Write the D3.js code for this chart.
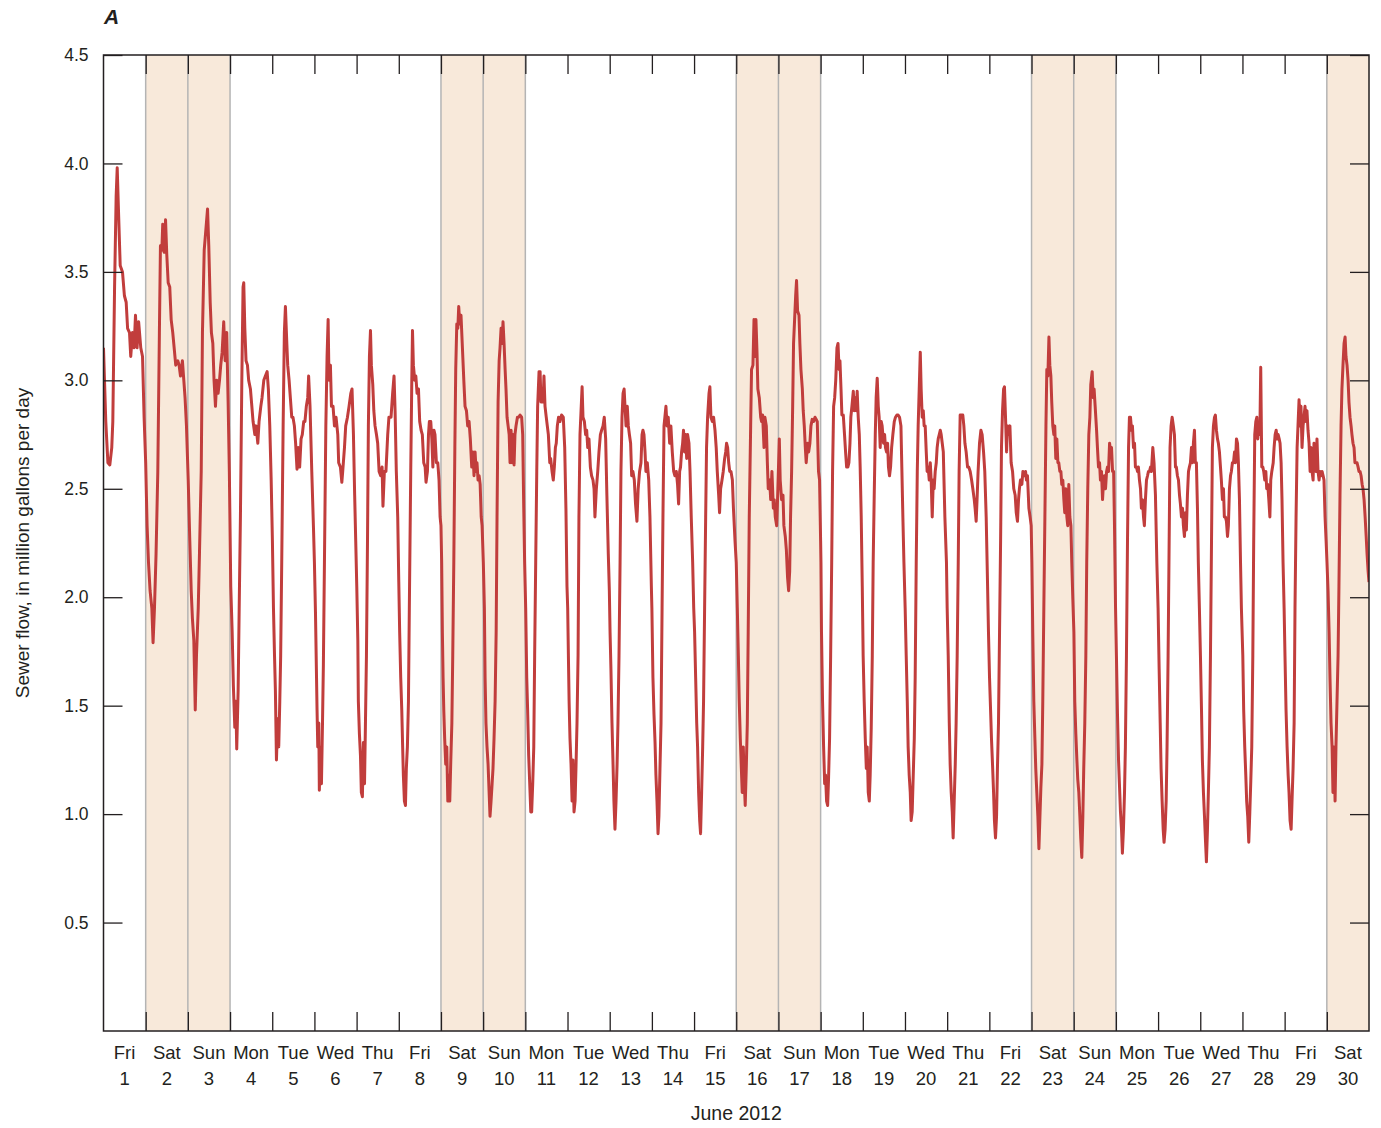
<!DOCTYPE html>
<html>
<head>
<meta charset="utf-8">
<script src="https://cdn.jsdelivr.net/npm/d3@7"></script>
<style>
  body { margin: 0; background: #fff; }
  text { font-family: "Liberation Sans", Arial, "DejaVu Sans", sans-serif; fill: #231f20; }
</style>
</head>
<body>
<svg id="viz" width="1381" height="1128"></svg>
<script>
// Sewer flow, June 2012 -- readings per day as [hour of day, million gallons per day]
const jun01 = [[0,3.15],[1.3,2.81],[2.5,2.62],[3.6,2.61],[4.7,2.69],[5.3,2.81],[6.3,3.43],[7.2,3.85],[7.8,3.98],[8.5,3.79],[9.5,3.53],[10.8,3.50],[11.9,3.39],[12.9,3.36],[13.7,3.24],[14.8,3.22],[15.5,3.11],[16.5,3.22],[17.4,3.15],[18.2,3.30],[19.1,3.15],[20,3.27],[21.2,3.15],[22.2,3.11],[23.1,2.83]];
const jun02 = [[0,2.62],[0.8,2.33],[1.6,2.16],[2.5,2.03],[3.5,1.95],[4.2,1.79],[5,1.95],[5.9,2.20],[6.9,2.58],[7.8,3.22],[8.4,3.62],[9.2,3.60],[9.7,3.72],[10.5,3.59],[11.3,3.74],[12,3.58],[12.8,3.45],[13.7,3.43],[14.5,3.28],[15.4,3.22],[16.2,3.15],[17.1,3.07],[18.3,3.09],[19,3.07],[19.8,3.02],[20.9,3.09],[21.7,3.00],[22.4,2.92],[23.2,2.79]];
const jun03 = [[0.2,2.54],[1.1,2.26],[1.9,2.03],[2.6,1.90],[3.4,1.80],[4.2,1.48],[4.9,1.73],[5.9,1.95],[6.6,2.20],[7.6,2.58],[8.3,3.22],[9.3,3.60],[10.2,3.69],[11.2,3.79],[11.9,3.62],[12.7,3.36],[13.4,3.22],[14.2,3.17],[14.9,3.00],[15.7,2.88],[16.4,3.00],[17.2,2.94],[18,3.00],[18.7,3.07],[19.5,3.13],[20.4,3.27],[21.2,3.09],[22.1,3.22],[22.9,2.90],[23.6,2.58]];
const jun04 = [[0.4,2.05],[1.2,1.84],[1.9,1.59],[2.7,1.40],[3.3,1.52],[3.8,1.30],[4.6,1.57],[5.2,1.95],[5.9,2.37],[6.7,3.00],[7.4,3.43],[7.8,3.45],[8.4,3.24],[9.1,3.09],[9.9,3.07],[10.6,3.00],[11.6,2.96],[12.4,2.88],[13.1,2.81],[14.1,2.75],[14.8,2.79],[15.8,2.71],[16.5,2.81],[17.5,2.88],[18.2,2.92],[19.2,3.00],[20.1,3.02],[21.1,3.04],[21.8,2.96],[22.6,2.79],[23.4,2.54]];
const jun05 = [[0.1,2.26],[0.7,1.95],[1.3,1.73],[1.8,1.57],[2.4,1.25],[3.1,1.44],[3.7,1.31],[4.3,1.52],[4.8,1.73],[5.4,2.16],[6.2,2.79],[6.9,3.22],[7.5,3.34],[8.3,3.17],[8.8,3.07],[9.6,3.00],[10.3,2.92],[11.1,2.83],[11.8,2.83],[12.6,2.79],[13.3,2.71],[14.1,2.59],[14.8,2.69],[15.6,2.60],[16.4,2.73],[17.1,2.75],[17.9,2.81],[18.6,2.81],[19.4,2.88],[20.2,2.92],[20.7,3.02],[21.5,2.88],[22.5,2.58],[23.5,2.31]];
const jun06 = [[0,2.16],[0.6,1.93],[1.2,1.63],[1.5,1.48],[1.9,1.31],[2.5,1.42],[2.8,1.11],[3.4,1.31],[4,1.14],[4.6,1.42],[5.1,1.69],[5.7,2.16],[6.5,2.79],[7.2,3.11],[7.8,3.28],[8.3,3.00],[9.1,3.07],[9.7,2.88],[10.6,2.88],[11.4,2.79],[12.3,2.83],[13.3,2.75],[13.8,2.62],[14.8,2.60],[15.6,2.53],[16.1,2.58],[17.1,2.69],[17.8,2.79],[18.8,2.83],[19.7,2.88],[20.7,2.94],[21.4,2.96],[22.2,2.75],[22.9,2.47],[23.5,2.26]];
const jun07 = [[0.1,2.05],[0.7,1.80],[1,1.52],[1.6,1.37],[2.2,1.27],[2.7,1.10],[3.3,1.08],[3.9,1.33],[4.5,1.14],[5,1.40],[5.6,1.73],[6.2,2.26],[6.7,2.79],[7.3,3.11],[7.9,3.23],[8.4,3.07],[9.2,2.98],[9.8,2.86],[10.5,2.79],[11.3,2.75],[12,2.71],[12.8,2.58],[13.7,2.56],[14.5,2.60],[15,2.42],[15.8,2.58],[16.7,2.58],[17.7,2.75],[18.4,2.83],[19.6,2.83],[20.5,2.94],[21.3,3.02],[21.9,2.86],[22.6,2.58],[23.4,2.37]];
const jun08 = [[0,2.07],[0.5,1.84],[1.1,1.63],[1.7,1.48],[2.2,1.31],[2.6,1.18],[3.2,1.06],[3.8,1.04],[4.3,1.21],[4.9,1.31],[5.5,1.52],[6,1.95],[6.8,2.58],[7.4,3.00],[7.8,3.23],[8.3,3.07],[9.1,3.00],[9.7,3.02],[10.4,2.94],[11.2,2.96],[11.9,2.81],[12.7,2.77],[13.4,2.75],[14.2,2.62],[15,2.60],[15.5,2.53],[16.3,2.58],[16.9,2.75],[17.4,2.81],[18.2,2.81],[18.8,2.73],[19.4,2.60],[20,2.77],[20.6,2.75],[21.4,2.62],[22.2,2.62],[22.9,2.54],[23.5,2.37]];
const jun09 = [[0,2.33],[0.4,2.16],[0.8,1.84],[1.2,1.63],[1.6,1.48],[2.1,1.35],[2.7,1.23],[3.3,1.31],[3.9,1.06],[4.4,1.18],[5,1.06],[5.6,1.25],[6.2,1.42],[6.7,1.73],[7.3,2.16],[7.9,2.69],[8.4,3.05],[9,3.26],[9.6,3.24],[10.1,3.34],[10.7,3.26],[11.4,3.30],[12.2,3.15],[13,3.00],[13.7,2.88],[14.5,2.86],[15.2,2.79],[16,2.81],[16.7,2.73],[17.5,2.60],[18.2,2.67],[18.8,2.56],[19.4,2.67],[20,2.58],[20.5,2.62],[21.1,2.54],[21.7,2.56],[22.3,2.52],[22.9,2.37],[23.4,2.33]];
const jun10 = [[0.1,2.16],[0.7,1.95],[1.1,1.63],[1.6,1.42],[2.2,1.31],[2.8,1.23],[3.4,1.10],[3.9,0.99],[4.5,1.06],[5.1,1.14],[5.6,1.21],[6.2,1.35],[6.8,1.52],[7.4,1.84],[7.9,2.37],[8.5,2.90],[9.1,3.09],[9.6,3.15],[10.2,3.24],[10.8,3.17],[11.3,3.27],[11.9,3.17],[12.5,3.05],[13,2.96],[13.6,2.83],[14.2,2.79],[14.8,2.75],[15.3,2.62],[15.9,2.77],[16.4,2.62],[17,2.75],[17.6,2.61],[18.1,2.75],[18.7,2.79],[19.5,2.83],[20.2,2.83],[21,2.84],[21.9,2.83],[22.5,2.75],[23.1,2.41],[23.6,2.16]];
const jun11 = [[0.2,1.95],[0.8,1.63],[1.3,1.48],[1.9,1.27],[2.5,1.14],[3.1,1.01],[3.6,1.01],[4.2,1.14],[4.8,1.31],[5.3,1.73],[5.9,2.16],[6.5,2.58],[7,2.88],[7.8,3.04],[8.4,3.04],[8.9,2.90],[9.5,2.96],[10.1,2.90],[10.6,3.02],[11.2,2.88],[11.9,2.83],[12.5,2.79],[13.1,2.75],[13.9,2.62],[14.4,2.64],[15.2,2.58],[15.9,2.54],[16.5,2.60],[17.1,2.69],[17.6,2.71],[18.2,2.79],[18.9,2.83],[19.7,2.81],[20.6,2.84],[21.6,2.83],[22.4,2.69],[23.1,2.41],[23.7,2.05]];
const jun12 = [[0.1,1.95],[0.5,1.73],[0.9,1.52],[1.4,1.35],[2,1.23],[2.6,1.06],[3.1,1.25],[3.7,1.01],[4.3,1.06],[4.8,1.21],[5.4,1.42],[6,1.73],[6.5,2.37],[7.1,2.75],[7.7,2.86],[8.3,2.97],[8.8,2.83],[9.6,2.81],[10.3,2.75],[10.9,2.77],[11.5,2.69],[12.2,2.73],[13,2.60],[13.7,2.56],[14.5,2.54],[15.1,2.50],[15.6,2.37],[16.4,2.50],[17.2,2.58],[17.9,2.67],[18.7,2.75],[19.4,2.77],[20.2,2.79],[20.9,2.83],[21.7,2.73],[22.4,2.47],[23.2,2.20],[23.8,2.03]];
const jun13 = [[0.2,1.84],[0.7,1.67],[1.3,1.42],[1.9,1.23],[2.4,1.06],[3,0.93],[3.6,1.06],[4.2,1.23],[4.7,1.42],[5.3,1.73],[5.9,2.16],[6.4,2.58],[7,2.83],[7.6,2.94],[8.2,2.96],[8.7,2.88],[9.3,2.79],[10,2.88],[10.6,2.79],[11.2,2.75],[11.9,2.71],[12.5,2.56],[13.2,2.58],[14,2.54],[14.7,2.43],[15.5,2.35],[16.2,2.50],[17,2.58],[17.8,2.62],[18.4,2.75],[18.9,2.77],[19.5,2.75],[20.1,2.67],[20.6,2.58],[21.4,2.62],[22.2,2.54],[22.9,2.37],[23.7,2.05]];
const jun14 = [[0,1.95],[0.6,1.63],[1.2,1.46],[1.8,1.33],[2.3,1.18],[2.9,1.06],[3.5,0.91],[4,0.99],[4.6,1.21],[5.2,1.42],[5.8,1.95],[6.3,2.37],[6.9,2.79],[7.4,2.83],[8,2.88],[8.6,2.79],[9.3,2.83],[10.1,2.71],[10.8,2.79],[11.6,2.67],[12.4,2.58],[13.1,2.56],[13.9,2.58],[14.6,2.52],[15.2,2.43],[15.8,2.58],[16.3,2.60],[16.9,2.67],[17.5,2.71],[18,2.77],[18.6,2.67],[19.2,2.75],[19.8,2.64],[20.3,2.75],[21.1,2.71],[21.7,2.58],[22.4,2.37],[23.2,2.16],[23.8,1.95]];
const jun15 = [[0.3,1.84],[0.9,1.63],[1.5,1.42],[2,1.31],[2.6,1.10],[3.2,0.97],[3.7,0.91],[4.3,1.10],[4.9,1.31],[5.4,1.52],[6,1.95],[6.6,2.37],[7.1,2.69],[7.7,2.83],[8.5,2.94],[9,2.97],[9.6,2.83],[10.4,2.81],[11.1,2.83],[11.9,2.77],[12.6,2.69],[13.2,2.58],[14,2.47],[14.5,2.39],[15.1,2.50],[15.9,2.54],[16.6,2.58],[17.4,2.64],[18,2.67],[18.5,2.71],[19.1,2.69],[19.7,2.62],[20.3,2.58],[21,2.58],[21.8,2.54],[22.4,2.41],[23.3,2.26]];
const jun16 = [[0,2.16],[0.6,1.95],[1.2,1.73],[1.7,1.52],[2.3,1.35],[2.9,1.21],[3.4,1.10],[4,1.31],[4.6,1.14],[5.1,1.04],[5.7,1.21],[6.3,1.42],[6.8,1.84],[7.4,2.37],[8.2,2.79],[8.7,3.05],[9.5,3.07],[10.1,3.28],[10.6,3.11],[11.2,3.28],[11.8,3.13],[12.3,2.96],[13.1,2.92],[13.9,2.83],[14.4,2.81],[15,2.84],[15.8,2.69],[16.3,2.83],[17.1,2.79],[17.7,2.62],[18.2,2.50],[19,2.54],[19.6,2.45],[20.3,2.58],[21.1,2.41],[21.6,2.45],[22.2,2.37],[23,2.33],[23.5,2.45]];
const jun17 = [[0.5,2.73],[1,2.54],[1.8,2.45],[2.6,2.47],[3.1,2.33],[3.9,2.28],[4.5,2.22],[5.2,2.09],[5.8,2.03],[6.4,2.12],[6.9,2.37],[7.5,2.58],[8.1,2.88],[8.6,3.17],[9.2,3.28],[9.8,3.39],[10.3,3.46],[10.9,3.32],[11.7,3.30],[12.2,3.17],[12.8,3.05],[13.6,2.96],[14.1,2.86],[14.7,2.79],[15.3,2.69],[15.8,2.62],[16.6,2.71],[17.2,2.67],[17.9,2.71],[18.5,2.79],[19.2,2.82],[20,2.81],[20.8,2.83],[21.5,2.82],[22.1,2.81],[22.8,2.58],[23.4,2.54]];
const jun18 = [[0,2.26],[0.2,2.16],[0.5,1.84],[1.1,1.52],[1.7,1.31],[2.3,1.14],[2.8,1.18],[3.4,1.06],[4,1.04],[4.5,1.16],[5.1,1.35],[5.7,1.73],[6.3,2.16],[6.8,2.58],[7.4,2.88],[8,2.92],[8.6,3.00],[9.3,3.15],[9.9,3.17],[10.5,3.05],[11,3.09],[11.6,2.96],[12.1,2.84],[12.9,2.84],[13.6,2.75],[14.2,2.67],[14.8,2.60],[15.5,2.60],[16.1,2.62],[16.7,2.71],[17.2,2.83],[17.8,2.88],[18.6,2.95],[19.1,2.86],[19.7,2.92],[20.3,2.86],[20.8,2.95],[21.4,2.83],[22,2.75],[22.5,2.60],[23.1,2.37],[23.7,2.05]];
const jun19 = [[0.2,1.73],[0.8,1.52],[1.4,1.35],[2,1.21],[2.5,1.31],[3.1,1.10],[3.7,1.06],[4.2,1.18],[4.8,1.40],[5.4,1.73],[5.9,2.16],[6.5,2.47],[7.1,2.75],[7.6,2.92],[8.2,3.01],[8.8,2.88],[9.3,2.83],[9.9,2.69],[10.5,2.81],[11,2.79],[11.8,2.71],[12.4,2.75],[12.9,2.69],[13.5,2.67],[14.1,2.71],[14.6,2.60],[15.2,2.56],[15.8,2.60],[16.4,2.69],[17.1,2.75],[17.9,2.81],[18.6,2.83],[19.4,2.84],[20.1,2.84],[20.9,2.83],[21.7,2.79],[22.2,2.60],[22.8,2.37],[23.4,2.16]];
const jun20 = [[0.1,1.95],[0.7,1.73],[1.3,1.52],[1.8,1.31],[2.4,1.18],[3,1.10],[3.5,0.97],[4.1,1.01],[4.7,1.18],[5.3,1.35],[5.8,1.63],[6.4,2.16],[7,2.58],[7.5,2.79],[8.1,2.96],[8.7,3.13],[9.2,2.96],[9.8,2.83],[10.4,2.86],[10.9,2.79],[11.5,2.79],[12.1,2.67],[12.6,2.58],[13.2,2.60],[13.8,2.54],[14.4,2.62],[14.9,2.54],[15.5,2.37],[16.1,2.54],[16.6,2.50],[17.2,2.58],[17.8,2.62],[18.3,2.69],[18.9,2.73],[19.5,2.75],[20.1,2.77],[20.6,2.75],[21.2,2.71],[21.8,2.67],[22.7,2.37],[23.6,2.16]];
const jun21 = [[0,1.95],[0.6,1.73],[1.2,1.42],[1.7,1.23],[2.3,1.10],[2.9,1.01],[3.4,0.89],[4,1.06],[4.6,1.23],[5.1,1.42],[5.7,1.73],[6.3,2.16],[6.8,2.58],[7.4,2.84],[8.2,2.84],[8.9,2.84],[9.5,2.79],[10.1,2.71],[10.8,2.67],[11.6,2.60],[12.3,2.60],[13.1,2.58],[13.9,2.54],[14.6,2.50],[15.4,2.45],[15.9,2.41],[16.5,2.35],[17.1,2.47],[17.6,2.58],[18.4,2.71],[19.2,2.77],[19.9,2.75],[20.7,2.67],[21.4,2.58],[22.2,2.37],[23,2.05],[23.5,1.84]];
const jun22 = [[0.1,1.63],[0.7,1.48],[1.2,1.35],[1.8,1.23],[2.4,1.10],[2.9,0.97],[3.5,0.89],[4.1,0.99],[4.6,1.21],[5.2,1.42],[5.8,1.84],[6.4,2.26],[6.9,2.69],[7.5,2.86],[8.1,2.96],[8.6,2.97],[9.2,2.83],[9.8,2.67],[10.3,2.79],[10.9,2.75],[11.7,2.79],[12.4,2.62],[13.2,2.58],[13.9,2.50],[14.7,2.47],[15.3,2.39],[16,2.35],[16.6,2.45],[17.1,2.50],[17.7,2.54],[18.5,2.52],[19.1,2.58],[19.8,2.56],[20.6,2.58],[21.1,2.54],[21.7,2.56],[22.5,2.41],[23.2,2.37],[23.8,2.33]];
const jun23 = [[0.2,2.16],[0.7,1.84],[1.3,1.52],[1.9,1.35],[2.4,1.21],[3,1.10],[3.6,0.99],[4.2,0.84],[4.7,0.97],[5.3,1.12],[5.9,1.23],[6.4,1.52],[7,1.95],[7.6,2.37],[8.2,2.79],[8.7,3.05],[9.3,3.02],[9.9,3.20],[10.4,3.07],[11,3.02],[11.5,2.90],[12.1,2.79],[12.7,2.75],[13.2,2.79],[13.8,2.64],[14.4,2.73],[15,2.62],[15.5,2.62],[16.1,2.58],[16.7,2.58],[17.2,2.52],[17.8,2.54],[18.4,2.45],[18.9,2.39],[19.5,2.50],[20.1,2.37],[20.6,2.33],[21.2,2.52],[21.8,2.37],[22.4,2.33],[22.9,2.16],[23.5,1.99]];
const jun24 = [[0.1,1.84],[0.6,1.52],[1.2,1.37],[1.8,1.25],[2.3,1.16],[2.9,1.10],[3.5,0.99],[4,0.89],[4.6,0.80],[5.2,0.99],[5.7,1.21],[6.3,1.42],[6.9,1.73],[7.4,2.16],[8,2.50],[8.6,2.75],[9.2,2.83],[9.7,2.98],[10.5,3.04],[11.1,2.92],[11.6,2.96],[12.2,2.88],[13,2.77],[13.5,2.69],[14.1,2.60],[14.7,2.62],[15.2,2.54],[15.8,2.58],[16.4,2.45],[17,2.54],[17.5,2.56],[18.1,2.50],[18.7,2.58],[19.2,2.60],[19.8,2.58],[20.4,2.71],[21,2.67],[21.5,2.69],[22.1,2.58],[22.7,2.58],[23.2,2.33],[23.8,1.95]];
const jun25 = [[0.3,1.73],[0.9,1.46],[1.5,1.25],[2,1.14],[2.6,1.01],[3.2,0.93],[3.7,0.82],[4.3,0.93],[4.9,1.10],[5.4,1.31],[6,1.73],[6.6,2.26],[7.2,2.69],[7.7,2.83],[8.3,2.83],[8.9,2.77],[9.4,2.79],[10,2.69],[10.6,2.71],[11.1,2.60],[11.7,2.60],[12.3,2.58],[12.8,2.60],[13.4,2.54],[14,2.50],[14.5,2.41],[15.1,2.45],[15.7,2.37],[16.2,2.33],[16.8,2.45],[17.4,2.54],[18,2.56],[18.5,2.58],[19.1,2.58],[19.7,2.60],[20.2,2.58],[21,2.69],[21.7,2.62],[22.5,2.47],[23.3,2.16]];
const jun26 = [[0,1.95],[0.6,1.67],[1.2,1.42],[1.7,1.21],[2.3,1.06],[2.9,0.93],[3.4,0.87],[4,0.93],[4.6,1.06],[5.1,1.31],[5.7,1.73],[6.3,2.26],[6.8,2.69],[7.4,2.79],[8,2.83],[8.7,2.79],[9.3,2.75],[9.9,2.60],[10.4,2.60],[11,2.56],[11.6,2.54],[12.2,2.47],[12.7,2.43],[13.3,2.37],[13.9,2.41],[14.4,2.33],[15,2.28],[15.6,2.39],[16.1,2.31],[16.7,2.47],[17.3,2.58],[17.8,2.60],[18.4,2.62],[19,2.69],[19.6,2.62],[20.1,2.71],[20.7,2.77],[21.2,2.62],[21.8,2.62],[22.4,2.41],[22.9,2.16],[23.5,1.95]];
const jun27 = [[0.1,1.73],[0.7,1.48],[1.2,1.25],[1.8,1.10],[2.4,0.99],[2.9,0.89],[3.5,0.78],[4.1,0.93],[4.6,1.10],[5.2,1.31],[5.8,1.73],[6.4,2.26],[6.9,2.69],[7.5,2.79],[8.1,2.83],[8.6,2.84],[9.2,2.77],[9.8,2.73],[10.3,2.71],[10.9,2.67],[11.5,2.60],[12,2.54],[12.6,2.45],[13.2,2.50],[13.7,2.37],[14.3,2.37],[14.9,2.35],[15.5,2.28],[16,2.33],[16.6,2.50],[17.2,2.56],[17.7,2.58],[18.3,2.62],[18.9,2.62],[19.5,2.67],[20,2.62],[20.6,2.73],[21.2,2.71],[21.7,2.62],[22.3,2.45],[22.9,2.16],[23.4,1.95]];
const jun28 = [[0.2,1.73],[0.7,1.48],[1.3,1.31],[1.9,1.18],[2.4,1.06],[3,0.99],[3.6,0.87],[4.2,1.01],[4.7,1.14],[5.3,1.31],[5.9,1.73],[6.4,2.26],[7,2.75],[7.6,2.81],[8.2,2.83],[8.7,2.73],[9.3,2.79],[9.9,2.75],[10.4,3.06],[11,2.60],[11.6,2.60],[12.1,2.58],[12.7,2.54],[13.3,2.58],[13.8,2.50],[14.4,2.52],[15,2.45],[15.6,2.37],[16.1,2.54],[16.7,2.58],[17.5,2.62],[18,2.69],[18.6,2.75],[19.2,2.77],[19.7,2.73],[20.3,2.75],[20.9,2.73],[21.4,2.71],[22,2.62],[22.5,2.45],[23.1,2.16],[23.7,1.95]];
const jun29 = [[0.2,1.73],[0.8,1.48],[1.4,1.31],[2,1.18],[2.5,1.10],[3.1,0.97],[3.7,0.93],[4.2,1.06],[4.8,1.21],[5.4,1.42],[5.9,1.95],[6.5,2.37],[7.1,2.69],[7.6,2.79],[8.2,2.91],[8.8,2.79],[9.3,2.88],[9.9,2.69],[10.5,2.79],[11,2.83],[11.6,2.88],[12.2,2.81],[12.7,2.86],[13.3,2.77],[13.9,2.71],[14.5,2.58],[15,2.69],[15.6,2.58],[16.2,2.54],[16.7,2.71],[17.3,2.60],[17.9,2.58],[18.4,2.73],[19,2.58],[19.6,2.54],[20.1,2.58],[20.7,2.56],[21.3,2.58],[21.9,2.56],[22.4,2.54],[23,2.37],[23.6,2.26]];
const jun30 = [[0.1,2.16],[0.7,2.03],[1.3,1.84],[1.8,1.63],[2.4,1.42],[3,1.31],[3.5,1.10],[4.1,1.31],[4.7,1.06],[5.2,1.31],[5.8,1.52],[6.4,1.73],[6.9,2.05],[7.5,2.47],[8.1,2.79],[8.6,2.96],[9.2,3.07],[9.8,3.17],[10.4,3.20],[10.9,3.11],[11.5,3.07],[12.1,3.00],[12.6,2.90],[13.2,2.83],[13.8,2.79],[14.3,2.75],[14.9,2.71],[15.5,2.69],[16,2.62],[16.6,2.62],[17.2,2.62],[17.8,2.60],[18.3,2.58],[18.9,2.58],[19.5,2.56],[20.1,2.52],[20.6,2.50],[21.2,2.45],[21.8,2.37],[22.4,2.28],[22.9,2.20],[23.5,2.12],[24,2.07]];

const dailyReadings = [jun01, jun02, jun03, jun04, jun05, jun06, jun07, jun08, jun09, jun10,
    jun11, jun12, jun13, jun14, jun15, jun16, jun17, jun18, jun19, jun20,
    jun21, jun22, jun23, jun24, jun25, jun26, jun27, jun28, jun29, jun30];

// categories
const dayNames = ["Fri", "Sat", "Sun", "Mon", "Tue", "Wed", "Thu"];
const dayNumbers = d3.range(1, 31);
const weekendDays = [2, 3, 9, 10, 16, 17, 23, 24, 30];
const yTicks = [0.5, 1.0, 1.5, 2.0, 2.5, 3.0, 3.5, 4.0, 4.5];

var svg = d3.select("#viz");
const margin = { top: 55, right: 12, bottom: 97, left: 103.5 };
const width = 1381 - margin.left - margin.right;
const height = 1128 - margin.top - margin.bottom;

// x in days since June 1 00:00
const x = d3.scaleLinear().domain([0, 30]).range([0, width]);
const y = d3.scaleLinear().domain([0, 4.5]).range([height, 0]);

const series = [];
dailyReadings.forEach((pts, i) => {
    pts.forEach(p => series.push({ t: i + p[0] / 24, v: p[1] }));
});

const g = svg.append("g").attr("transform", `translate(${margin.left},${margin.top})`);

g.append("clipPath").attr("id", "plotclip")
    .append("rect").attr("width", width).attr("height", height);

// weekend shading
g.selectAll("rect.weekend")
    .data(weekendDays)
    .enter().append("rect")
    .attr("class", "weekend")
    .attr("x", d => x(d - 1))
    .attr("y", 0)
    .attr("width", d => x(d) - x(d - 1))
    .attr("height", height)
    .attr("fill", "#f8e9da");

const weekendEdges = Array.from(new Set(weekendDays.flatMap(d => [d - 1, d]))).filter(d => d > 0 && d < 30);
g.selectAll("line.wkedge")
    .data(weekendEdges)
    .enter().append("line")
    .attr("class", "wkedge")
    .attr("x1", d => x(d)).attr("x2", d => x(d))
    .attr("y1", 0).attr("y2", height)
    .attr("stroke", "#b4b4b4")
    .attr("stroke-width", 1.5);

// flow line
const line = d3.line().x(d => x(d.t)).y(d => y(d.v));
g.append("path")
    .datum(series)
    .attr("clip-path", "url(#plotclip)")
    .attr("fill", "none")
    .attr("stroke", "#c13d3c")
    .attr("stroke-width", 3)
    .attr("stroke-linejoin", "round")
    .attr("d", line);

// axes, ticks pointing inward
const tickLen = 19;
const dayBounds = d3.range(1, 30);

const styleAxis = sel => {
    sel.select(".domain").remove();
    sel.selectAll(".tick line").attr("stroke", "#231f20").attr("stroke-width", 1.3);
};

g.append("g")
    .call(d3.axisLeft(y).tickValues(yTicks).tickSize(-tickLen).tickPadding(15).tickFormat(d3.format(".1f")))
    .call(styleAxis)
    .selectAll("text").attr("font-size", 17.5);

g.append("g")
    .attr("transform", `translate(${width},0)`)
    .call(d3.axisRight(y).tickValues(yTicks).tickSize(-tickLen).tickFormat(""))
    .call(styleAxis);

g.append("g")
    .call(d3.axisTop(x).tickValues(dayBounds).tickSize(-tickLen).tickFormat(""))
    .call(styleAxis);

g.append("g")
    .attr("transform", `translate(0,${height})`)
    .call(d3.axisBottom(x).tickValues(dayBounds).tickSize(-tickLen).tickFormat(""))
    .call(styleAxis);

// frame
g.append("rect")
    .attr("width", width).attr("height", height)
    .attr("fill", "none")
    .attr("stroke", "#231f20")
    .attr("stroke-width", 1.5);

// day labels
const dayLabel = g.selectAll("g.daylabel")
    .data(dayNumbers)
    .enter().append("g")
    .attr("class", "daylabel")
    .attr("transform", d => `translate(${x(d - 0.5)},${height})`);
dayLabel.append("text")
    .attr("y", 28)
    .attr("text-anchor", "middle")
    .attr("font-size", 18.5)
    .text(d => dayNames[(d - 1) % 7]);
dayLabel.append("text")
    .attr("y", 54)
    .attr("text-anchor", "middle")
    .attr("font-size", 18.5)
    .text(d => d);

g.append("text")
    .attr("x", width / 2)
    .attr("y", height + 89)
    .attr("text-anchor", "middle")
    .attr("font-size", 19.5)
    .text("June 2012");

g.append("text")
    .attr("transform", `translate(${-75},${height / 2}) rotate(-90)`)
    .attr("text-anchor", "middle")
    .attr("font-size", 19)
    .text("Sewer flow, in million gallons per day");

svg.append("text")
    .attr("x", 104)
    .attr("y", 24)
    .attr("font-size", 21)
    .attr("font-weight", "bold")
    .attr("font-style", "italic")
    .text("A");
</script>
</body>
</html>
